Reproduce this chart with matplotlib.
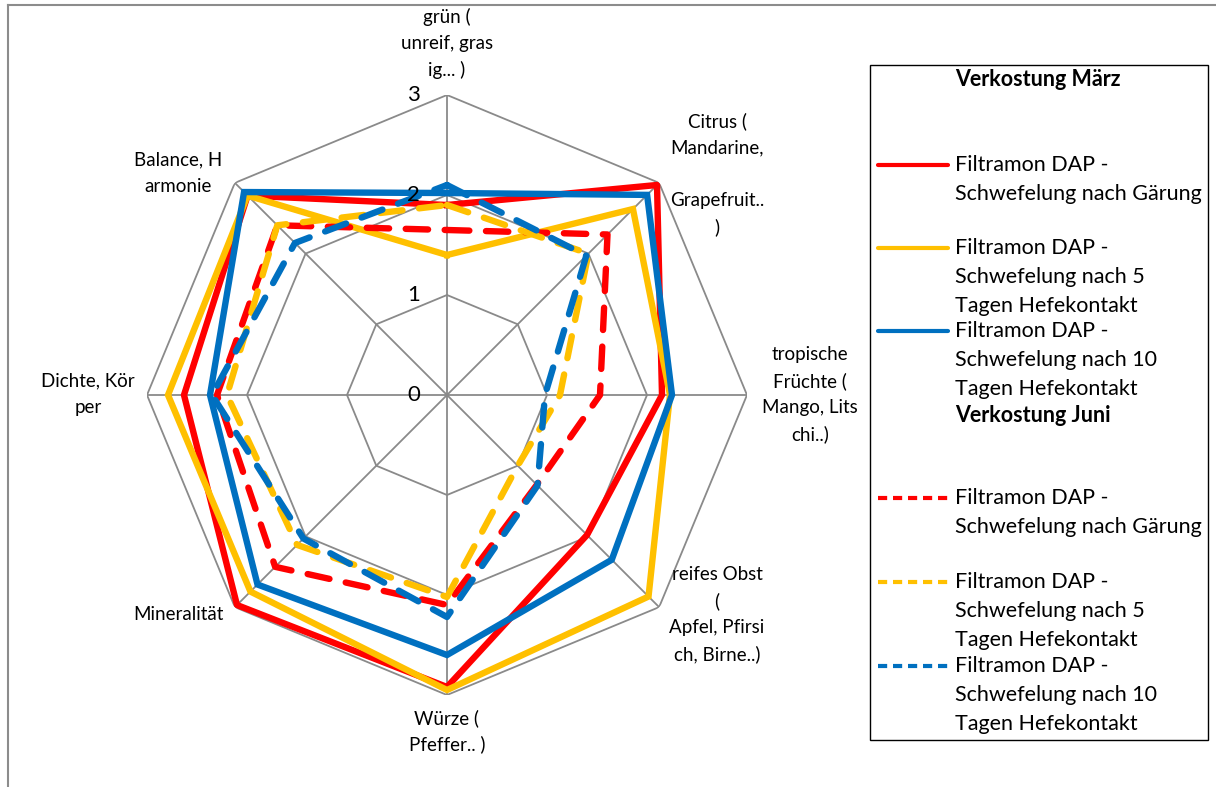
import numpy as np
import matplotlib.pyplot as plt
from matplotlib.lines import Line2D
from matplotlib.patches import Rectangle

plt.rcParams['font.family'] = ['Lato', 'DejaVu Sans']

# axes of the radar, clockwise from the top
categories = ['grün (\nunreif, gras\nig... )',
              'Citrus (\nMandarine,\n\nGrapefruit..\n)',
              'tropische\nFrüchte (\nMango, Lits\nchi..)',
              'reifes Obst\n(\nApfel, Pfirsi\nch, Birne..)',
              'Würze (\nPfeffer.. )',
              'Mineralität',
              'Dichte, Kör\nper',
              'Balance, H\narmonie']

# Verkostung März
maerz_gaerung = [1.90, 2.97, 2.15, 1.98, 2.92, 2.97, 2.63, 2.82]
maerz_5tage = [1.40, 2.63, 2.23, 2.85, 2.95, 2.78, 2.79, 2.82]
maerz_10tage = [2.02, 2.83, 2.25, 2.33, 2.60, 2.68, 2.37, 2.87]
# Verkostung Juni
juni_gaerung = [1.65, 2.27, 1.53, 1.27, 2.10, 2.43, 2.30, 2.40]
juni_5tage = [1.90, 2.00, 1.13, 1.00, 2.02, 2.12, 2.20, 2.40]
juni_10tage = [2.10, 1.97, 0.98, 1.28, 2.22, 2.03, 2.35, 2.15]

series_names = ['Filtramon DAP -\nSchwefelung nach Gärung',
                'Filtramon DAP -\nSchwefelung nach 5\nTagen Hefekontakt',
                'Filtramon DAP -\nSchwefelung nach 10\nTagen Hefekontakt']
ticks = [0, 1, 2, 3]

colors = ['#FF0000', '#FFC000', '#0070C0']

W, H = 1216, 787
fig = plt.figure(figsize=(W / 100, H / 100), dpi=100)


def px(x, y):
    return x / W, 1 - y / H


# chart frame (only top and left edge visible)
fig.add_artist(Line2D([8 / W, 1.0], [1 - 5 / H] * 2, color='#8c8c8c', lw=1.5))
fig.add_artist(Line2D([8 / W] * 2, [1 - 5 / H, 0], color='#8c8c8c', lw=1.5))

cx, cy, R = 447, 395, 300
ax = fig.add_axes([(cx - R) / W, (H - cy - R) / H, 2 * R / W, 2 * R / H],
                  projection='polar')
ax.set_theta_offset(np.pi / 2)
ax.set_theta_direction(-1)
ax.set_ylim(0, 3)
ax.set_axis_off()

angles = np.linspace(0, 2 * np.pi, len(categories), endpoint=False)
closed = np.append(angles, angles[0])

for r in ticks[1:]:
    ax.plot(closed, [r] * len(closed), color='#8a8a8a', lw=1.3, zorder=1)
for a in angles:
    ax.plot([a, a], [0, ticks[-1]], color='#8a8a8a', lw=1.3, zorder=1)

for t in ticks:
    x, y = px(cx - 27, cy - t * 100)
    fig.text(x, y, str(t), fontsize=16, ha='right', va='center')

solid = [maerz_gaerung, maerz_5tage, maerz_10tage]
dashed = [juni_gaerung, juni_5tage, juni_10tage]
z = 3
for vals, c in zip(solid, colors):
    ax.plot(closed, vals + vals[:1], color=c, lw=4.6, solid_joinstyle='miter', zorder=z)
    z += 1
for vals, c in zip(dashed, colors):
    ax.plot(closed, vals + vals[:1], color=c, lw=4.6, linestyle=(0, (3.5, 2.6)),
            dash_capstyle='round', zorder=z)
    z += 1

# category labels
label_pos = [(447, 43), (717, 174), (810, 394), (717, 614),
             (447, 731), (178, 614), (88, 394), (178, 173)]
for text, (lx, ly) in zip(categories, label_pos):
    lines = text.split('\n')
    n = len(lines)
    for i, line in enumerate(lines):
        x, y = px(lx, ly + (i - (n - 1) / 2) * 26.5)
        fig.text(x, y, line, fontsize=13.5, ha='center', va='center')

# legend box
x0, y0 = px(870, 740)
x1, y1 = px(1208, 65)
fig.add_artist(Rectangle((x0, y0), x1 - x0, y1 - y0, fill=False,
                         edgecolor='black', lw=1.0, transform=fig.transFigure))

for head, hy in [('Verkostung März', 80), ('Verkostung Juni', 416)]:
    x, y = px(955, hy)
    fig.text(x, y, head, fontsize=15.5, fontweight='bold', ha='left', va='center')

leg_y = [165, 248, 331, 498, 582, 666]
for k, ly in enumerate(leg_y):
    c = colors[k % 3]
    ls = '-' if k < 3 else (0, (2.2, 1.4))
    xa, ya = px(878, ly)
    xb, _ = px(948, ly)
    fig.add_artist(Line2D([xa, xb], [ya, ya], color=c, lw=3.0, linestyle=ls,
                          solid_capstyle='round', dash_capstyle='butt'))
    for i, line in enumerate(series_names[k % 3].split('\n')):
        x, y = px(955, ly + i * 28.8)
        fig.text(x, y, line, fontsize=15.5, ha='left', va='center')

fig.savefig('out.png', dpi=100)
